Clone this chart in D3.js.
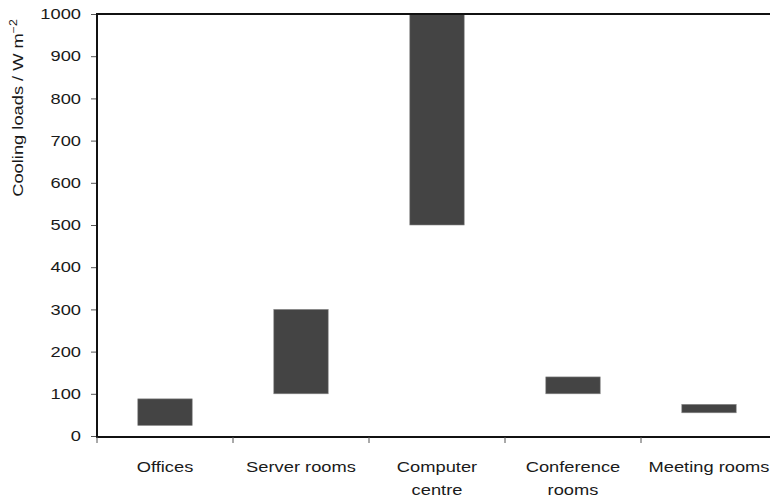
<!DOCTYPE html>
<html><head><meta charset="utf-8">
<script src="https://cdn.jsdelivr.net/npm/d3@7"></script>
<style>body{margin:0;background:#fff}svg{display:block}text{font-family:"Liberation Sans",Arial,sans-serif;fill:#1a1a1a}</style>
</head><body><svg id="c" width="770" height="501"></svg>
<script>
const categories = [["Offices"],["Server rooms"],["Computer","centre"],["Conference","rooms"],["Meeting rooms"]];
const lowValues = [25,100,500,100,55];
const highValues = [88,300,1000,140,75];
const yTicks = [0,100,200,300,400,500,600,700,800,900,1000];

const svg = d3.select("#c");
const x0 = 97, x1 = 777, yTop = 14, yBot = 436;
const SX = 1.22;
const x = d3.scaleBand().domain(d3.range(categories.length)).range([x0, x1]).paddingInner(0.6).paddingOuter(0.3);
const xb = d3.scaleBand().domain(d3.range(categories.length)).range([x0, x1]);
const y = d3.scaleLinear().domain([0,1000]).range([yBot, yTop]);

// bars
svg.selectAll("rect.bar").data(categories).join("rect")
  .attr("x",(d,i)=>x(i)).attr("width",x.bandwidth())
  .attr("y",(d,i)=>y(highValues[i])).attr("height",(d,i)=>y(lowValues[i])-y(highValues[i]))
  .attr("fill","#444").attr("stroke","#888").attr("stroke-width",0.6);

// y axis ticks (via axis generator, labels replaced by stretched text)
const ya = svg.append("g").attr("transform",`translate(${x0},0)`)
  .call(d3.axisLeft(y).tickValues(yTicks).tickSize(6).tickFormat(""));
ya.select(".domain").remove();
ya.selectAll(".tick line").attr("stroke","#555");
svg.selectAll("text.yt").data(yTicks).join("text")
  .attr("text-anchor","end").attr("font-size",15).attr("dy","0.35em")
  .attr("transform",d=>`translate(81,${y(d)}) scale(${SX},1)`)
  .text(d3.format("d"));
svg.append("line").attr("x1",x0).attr("x2",x0).attr("y1",yTop-1).attr("y2",yBot+2).attr("stroke","#111").attr("stroke-width",2);

// top line
svg.append("line").attr("x1",x0).attr("x2",770).attr("y1",yTop).attr("y2",yTop).attr("stroke","#111").attr("stroke-width",2);

// x axis
svg.append("line").attr("x1",x0-1).attr("x2",770).attr("y1",yBot+1).attr("y2",yBot+1).attr("stroke","#111").attr("stroke-width",2);
svg.selectAll("line.xt").data(d3.range(categories.length)).join("line")
  .attr("x1",i=>xb(i)).attr("x2",i=>xb(i)).attr("y1",yBot+1).attr("y2",yBot+7).attr("stroke","#555");

svg.selectAll("text.xl").data(categories).join("text")
  .attr("text-anchor","middle").attr("font-size",15)
  .attr("transform",(d,i)=>`translate(${xb(i)+xb.bandwidth()/2},472) scale(${SX},1)`)
  .each(function(d){
    d3.select(this).selectAll("tspan").data(d).join("tspan")
      .attr("x",0).attr("dy",(t,j)=>j===0?0:23).text(t=>t);
  });

// y label
const yl = svg.append("text").attr("transform",`translate(23,108) rotate(-90) scale(${SX},1)`).attr("text-anchor","middle").attr("font-size",15);
yl.append("tspan").text("Cooling loads / W m");
yl.append("tspan").attr("dy",-6).attr("font-size",10).text("−2");
</script></body></html>
